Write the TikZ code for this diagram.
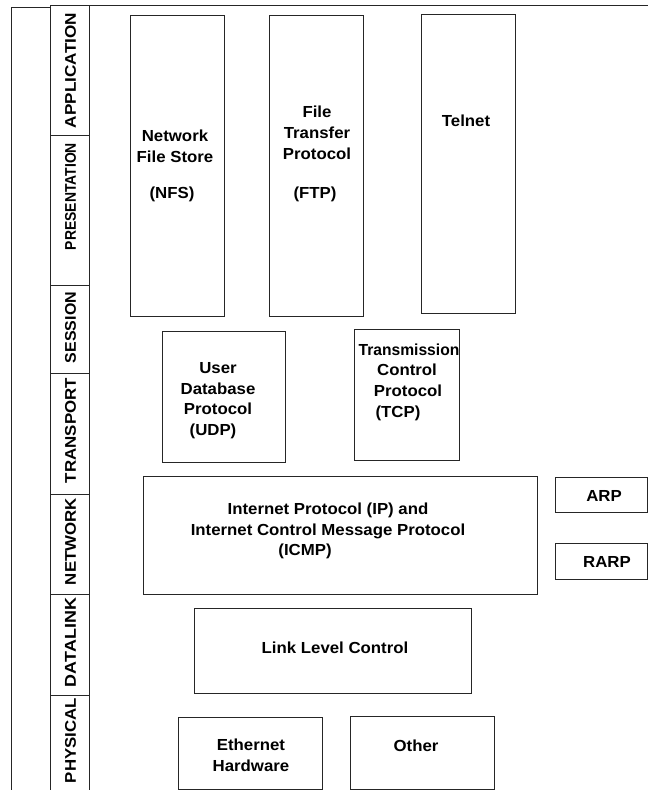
\documentclass[tikz,border=0pt]{standalone}
\usepackage{fontspec}
\setmainfont{Liberation Sans}
\newfontfamily\boxfont[FakeStretch=1.05]{Liberation Sans}
\usetikzlibrary{fit}

\tikzset{
  frame/.style={draw=black!85, line width=1pt},
  proto/.style={frame, inner sep=0pt, fit={#1}},
  cell/.style={frame, inner sep=0pt, fit={#1}},
  txt/.style={font={\boxfont\bfseries\fontsize{16}{19}\selectfont}, anchor=base, inner sep=0pt},
  layername/.style={font={\boxfont\bfseries}, rotate=90, inner sep=0pt, anchor=center},
}
\newcommand{\layertext}[2]{\resizebox{#1}{10.8pt}{#2}}

\begin{document}
\begin{tikzpicture}[x=1pt, y=-1pt]
\useasboundingbox (0,0) rectangle (648,790);

% outer frame
\draw[frame] (11,795) -- (11,7) -- (50,7);
\draw[frame] (89,5) -- (652,5);

% OSI layer column
\node[cell={(50,5) (89,135)}]   (lApp) {};
\node[cell={(50,135) (89,285)}] (lPres) {};
\node[cell={(50,285) (89,373)}] (lSess) {};
\node[cell={(50,373) (89,494)}] (lTrans) {};
\node[cell={(50,494) (89,594)}] (lNet) {};
\node[cell={(50,594) (89,695)}] (lLink) {};
\node[cell={(50,695) (89,795)}] (lPhys) {};

\node[layername] (tApp)   at (70.5,70.5)  {\layertext{115pt}{APPLICATION}};
\node[layername] (tPres)  at (70.5,196.5) {\layertext{107pt}{PRESENTATION}};
\node[layername] (tSess)  at (70.5,327.5) {\layertext{71pt}{SESSION}};
\node[layername] (tTrans) at (70.5,430.5) {\layertext{105pt}{TRANSPORT}};
\node[layername] (tNet)   at (70.5,541.5) {\layertext{87pt}{NETWORK}};
\node[layername] (tLink)  at (70.5,642.5) {\layertext{89pt}{DATALINK}};
\node[layername] (tPhys)  at (70.5,740.5) {\layertext{85pt}{PHYSICAL}};

% application protocols
\node[proto={(130,15) (224,316)}] (nfs) {};
\node[txt] (nfs1) at (175,141) {Network};
\node[txt] (nfs2) at (175,162) {File Store};
\node[txt] (nfs3) at (172,198) {(NFS)};

\node[proto={(269,15) (363,316)}] (ftp) {};
\node[txt] (ftp1) at (317,117) {File};
\node[txt] (ftp2) at (317,138) {Transfer};
\node[txt] (ftp3) at (317,159) {Protocol};
\node[txt] (ftp4) at (315,198) {(FTP)};

\node[proto={(421,14) (515,313)}] (telnet) {};
\node[txt] (tel1) at (466,126) {Telnet};

% transport protocols
\node[proto={(162,331) (285,462)}] (udp) {};
\node[txt] (udp1) at (218,373) {User};
\node[txt] (udp2) at (218,394) {Database};
\node[txt] (udp3) at (218,414) {Protocol};
\node[txt] (udp4) at (213,435) {(UDP)};

\node[proto={(354,329) (459,460)}] (tcp) {};
\node[txt] (tcp1) at (409,355) {\scalebox{0.93}[1]{Transmission}};
\node[txt] (tcp2) at (407,375) {Control};
\node[txt] (tcp3) at (408,396) {Protocol};
\node[txt] (tcp4) at (398,417) {(TCP)};

% network layer
\node[proto={(143,476) (537,594)}] (ip) {};
\node[txt] (ip1) at (328,514) {Internet Protocol (IP) and};
\node[txt] (ip2) at (328,535) {Internet Control Message Protocol};
\node[txt] (ip3) at (305,555) {(ICMP)};

\node[proto={(555,477) (647,512)}] (arp) {};
\node[txt] (arp1) at (604,501) {ARP};
\node[proto={(555,543) (647,579)}] (rarp) {};
\node[txt] (rarp1) at (607,567) {RARP};

% data link and physical
\node[proto={(194,608) (471,693)}] (llc) {};
\node[txt] (llc1) at (335,653) {Link Level Control};

\node[proto={(178,717) (322,789)}] (eth) {};
\node[txt] (eth1) at (251,750) {Ethernet};
\node[txt] (eth2) at (251,771) {Hardware};

\node[proto={(350,716) (494,789)}] (other) {};
\node[txt] (oth1) at (416,751) {Other};
\end{tikzpicture}
\end{document}
